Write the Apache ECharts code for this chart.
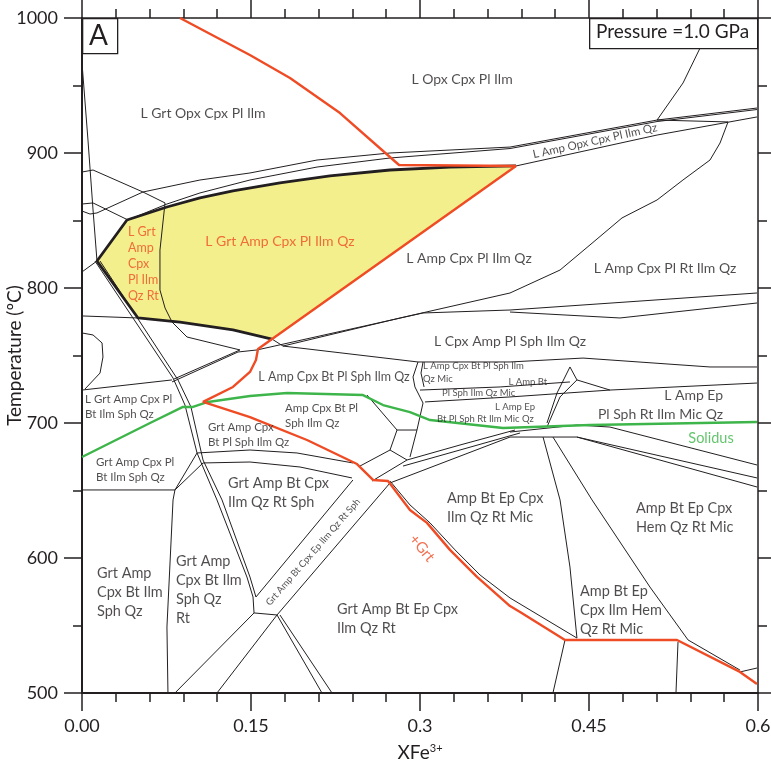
<!DOCTYPE html>
<html><head><meta charset="utf-8">
<script src="https://cdn.jsdelivr.net/npm/echarts@6/dist/echarts.min.js"></script>
<style>html,body{margin:0;padding:0;background:#fff}#chart{width:771px;height:771px}</style>
</head><body><div id="chart"></div>
<script>
// Axis ticks
const xTickLabels = ['0.00', '0.15', '0.3', '0.45', '0.6'];
const yTickLabels = ['500', '600', '700', '800', '900', '1000'];

// Melt-bearing garnet field (L Grt Amp Cpx ...), [XFe3+, T]
const meltField = [
  [0.0133, 820], [0.0399, 850.4], [0.0754, 860], [0.1047, 866.7], [0.134, 871.9],
  [0.1757, 877.8], [0.2201, 883], [0.2734, 887.4], [0.3266, 889.6], [0.3852, 890.4],
  [0.1686, 762.2], [0.134, 768.9], [0.087, 774.8], [0.0497, 777.8]
];
const meltFieldEdge = [
  [0.1686, 762.2], [0.134, 768.9], [0.087, 774.8], [0.0497, 777.8], [0.0133, 820],
  [0.0399, 850.4], [0.0754, 860], [0.1047, 866.7], [0.134, 871.9], [0.1757, 877.8],
  [0.2201, 883], [0.2734, 887.4], [0.3266, 889.6], [0.3852, 890.4]
];

// Garnet-in boundary
const garnetIn = [
  [0.087, 1000], [0.149, 972.6], [0.1846, 955.6], [0.229, 929.6], [0.2814, 891.1],
  [0.3852, 890.4], [0.1562, 754.8], [0.1544, 746.7], [0.1491, 737.8], [0.134, 726.7],
  [0.1074, 715.6], [0.1491, 704.4], [0.1997, 687.4], [0.2441, 669.6], [0.2583, 657.8],
  [0.2716, 657], [0.2911, 635.6], [0.3062, 626], [0.3266, 606], [0.3506, 586],
  [0.3799, 564.4], [0.3888, 560], [0.4287, 539.3], [0.5281, 539.3], [0.584, 515.6],
  [0.5991, 506.7]
];

// Solidus
const solidus = [
  [0, 674.8], [0.0604, 700], [0.0896, 711.9], [0.0985, 711.9], [0.1118, 715.6],
  [0.1491, 720], [0.182, 722.2], [0.2494, 720.7], [0.2672, 713.3], [0.2911, 708.1],
  [0.3089, 702.2], [0.3737, 696.3], [0.4509, 698.5], [0.5991, 700.7]
];

// Other field boundaries
const phaseBoundaries = [
  [[0, 966.7], [0.0053, 909.6], [0.0098, 857.8], [0.0133, 820]],
  [[0, 885.9], [0.0098, 887.4], [0.0541, 871.1], [0.0737, 863]],
  [[0, 862.2], [0.0098, 863], [0.0408, 850.4]],
  [[0, 857], [0.0071, 854.8], [0.0133, 855.6]],
  [[0.0133, 855.6], [0.0541, 871.1], [0.1047, 880], [0.1491, 885.2], [0.2086, 894.8], [0.2734, 900], [0.3799, 904.4], [0.5104, 924.4], [0.5991, 933.3]],
  [[0.0408, 850.4], [0.0754, 862.2], [0.1047, 870.4], [0.1491, 880], [0.2086, 889.6], [0.2734, 896.3], [0.3799, 903.3], [0.5104, 923.3], [0.5991, 932.2]],
  [[0.3852, 890.4], [0.5104, 913.3], [0.5991, 926.7]],
  [[0.5486, 977.8], [0.5335, 951.9], [0.5104, 924.4]],
  [[0.5104, 924.4], [0.5734, 923]],
  [[0.5734, 923], [0.5663, 907.4], [0.5574, 894.8], [0.5334, 880], [0.5104, 865.2], [0.4793, 851.9], [0.4509, 831.9], [0.4243, 813.3], [0.3799, 796.3], [0.2823, 777.8], [0.1784, 757]],
  [[0.0737, 863], [0.0692, 828.1], [0.0692, 798.5], [0.0737, 785.2], [0.0799, 774.8], [0.0932, 763.7], [0.1402, 754.1]],
  [[0, 811.9], [0.0133, 820]],
  [[0, 779.3], [0.0497, 777.8]],
  [[0, 766.7], [0.0098, 765.2], [0.0178, 759.3], [0.0186, 748.9], [0.016, 737], [0.0027, 725.2]],
  [[0, 724.4], [0.0799, 731.9]],
  [[0.0799, 730.4], [0.1385, 752.6]],
  [[0.0817, 732.6], [0.1402, 754.1]],
  [[0.1385, 752.6], [0.1553, 754.1], [0.3027, 781.5], [0.3799, 783.7], [0.5991, 796.3]],
  [[0.3799, 782.2], [0.4775, 777.8], [0.5991, 788.9]],
  [[0.1686, 762.2], [0.1784, 757], [0.2982, 745.2]],
  [[0.2982, 745.2], [0.3799, 745.2], [0.4447, 748.1], [0.5574, 741.5], [0.5991, 741.5]],
  [[0.0115, 820], [0.0808, 733.3], [0.0914, 713.3], [0.1021, 677.8], [0.1198, 643], [0.1464, 585.9], [0.1518, 571.1]],
  [[0.016, 820], [0.0852, 731.9], [0.0967, 711.9], [0.1074, 672.6], [0.1243, 643], [0.1491, 585.9], [0.1544, 571.1]],
  [[0, 650.4], [0.0825, 650.4]],
  [[0.0763, 500], [0.0754, 548.9], [0.0808, 643], [0.0825, 650.4]],
  [[0.0825, 650.4], [0.1021, 677.8]],
  [[0.0825, 650.4], [0.1074, 670.4]],
  [[0.1021, 677.8], [0.1491, 680], [0.1908, 677.8], [0.2405, 670.4]],
  [[0.1074, 670.4], [0.1491, 671.1], [0.1935, 667.4], [0.2396, 659.3]],
  [[0.0825, 500], [0.1527, 559.3]],
  [[0.1198, 500], [0.1731, 557.8]],
  [[0.1544, 571.1], [0.2405, 657.8]],
  [[0.1731, 557.8], [0.2734, 655.6]],
  [[0.1731, 557.8], [0.213, 500]],
  [[0.1757, 557.8], [0.2219, 500]],
  [[0.1518, 571.1], [0.1527, 559.3], [0.1731, 557.8]],
  [[0.4092, 689.6], [0.4243, 643], [0.4331, 593.3], [0.4393, 540.7]],
  [[0.418, 689.6], [0.4527, 643], [0.5041, 578.5], [0.5379, 539.3]],
  [[0.4287, 539.3], [0.418, 500]],
  [[0.529, 537.8], [0.5272, 500]],
  [[0.584, 515.6], [0.5991, 518.5]],
  [[0.2734, 657], [0.2911, 639.3], [0.3089, 626], [0.3311, 606], [0.3533, 587.4], [0.3799, 570.4], [0.4393, 540.7]],
  [[0.5379, 539.3], [0.584, 517]],
  [[0.3799, 693.3], [0.4393, 698.5], [0.4686, 697], [0.5991, 668.9]],
  [[0.3799, 689.6], [0.4393, 689.6], [0.5991, 659.3]],
  [[0.4393, 689.6], [0.5991, 652.6]],
  [[0.3044, 715.6], [0.3799, 719.3], [0.4686, 724.4], [0.5991, 729.6]],
  [[0.3, 724.4], [0.3711, 726.7], [0.4331, 730.4]],
  [[0.4331, 741.5], [0.4393, 731.9], [0.4686, 724.4]],
  [[0.4331, 741.5], [0.4216, 722.2], [0.4127, 700]],
  [[0.4393, 731.9], [0.4243, 719.3], [0.4127, 697]],
  [[0.2982, 745.2], [0.2938, 734.1], [0.2955, 726.7], [0.3027, 714.8], [0.2973, 694.8], [0.2911, 674.8]],
  [[0.3027, 745.2], [0.3009, 737], [0.3036, 726.7]],
  [[0.2734, 655.6], [0.3799, 689.6]],
  [[0.253, 720.7], [0.2796, 694.8]],
  [[0.2796, 694.8], [0.2734, 680], [0.2467, 668.1]],
  [[0.2796, 694.8], [0.2973, 694.8]],
  [[0.2734, 680], [0.2885, 672.6]],
  [[0.2885, 672.6], [0.2574, 657]],
  [[0.2885, 672.6], [0.3355, 683.7], [0.3843, 694.8]],
  [[0.2849, 668.1], [0.3355, 680], [0.3888, 692.6]]
];

// Field names: [XFe3+, T, name]
const centredLabels = [
  [0.1074, 929.6, 'L Grt Opx Cpx Pl Ilm'],
  [0.3373, 954.8, 'L Opx Cpx Pl Ilm'],
  [0.3435, 822.2, 'L Amp Cpx Pl Ilm Qz'],
  [0.5175, 814.8, 'L Amp Cpx Pl Rt Ilm Qz'],
  [0.3799, 760.7, 'L Cpx Amp Pl Sph Ilm Qz']
];
const leftLabels = [
  [0.1296, 648.5, 'Grt Amp Bt Cpx\nIlm Qz Rt Sph'],
  [0.324, 637, 'Amp Bt Ep Cpx\nIlm Qz Rt Mic'],
  [0.4917, 629.6, 'Amp Bt Ep Cpx\nHem Qz Rt Mic'],
  [0.442, 561.5, 'Amp Bt Ep\nCpx Ilm Hem\nQz Rt Mic'],
  [0.2263, 555.2, 'Grt Amp Bt Ep Cpx\nIlm Qz Rt'],
  [0.0834, 576.7, 'Grt Amp\nCpx Bt Ilm\nSph Qz\nRt'],
  [0.0133, 574.8, 'Grt Amp\nCpx Bt Ilm\nSph Qz']
];
const mediumLabels = [
  [0.0124, 665.6, 'Grt Amp Cpx Pl\nBt Ilm Sph Qz'],
  [0.0027, 712.2, 'L Grt Amp Cpx Pl\nBt Ilm Sph Qz'],
  [0.1118, 691.1, 'Grt Amp Cpx\nBt Pl Sph Ilm Qz'],
  [0.1802, 705.6, 'Amp Cpx Bt Pl\nSph Ilm Qz']
];
const smallLabels = [
  [0.3027, 737.4, 'L Amp Cpx Bt Pl Sph Ilm\nQz Mic'],
  [0.3785, 730.4, 'L Amp Bt'],
  [0.3196, 722.2, 'Pl Sph Ilm Qz Mic'],
  [0.3666, 711.9, 'L Amp Ep'],
  [0.3151, 703, 'Bt Pl Sph Rt Ilm Mic Qz']
];
const rightLabels = [[0.569, 713.0, 'L Amp Ep\nPl Sph Rt Ilm Mic Qz']];
const midLabels = [[0.2237, 734.1, 'L Amp Cpx Bt Pl Sph Ilm Qz']];
const meltLabels = [[0.1757, 834.8, 'L Grt Amp Cpx Pl Ilm Qz']];
const meltLabelsStacked = [[0.0408, 817.8, 'L Grt\nAmp\nCpx\nPl Ilm\nQz Rt']];
const solidusLabel = [[0.5583, 688.9, 'Solidus']];
const garnetInLabel = [[0.3018, 607.4, '+Grt']];
const bandLabels = [
  [0.4553, 908.9, 'L Amp Opx Cpx Pl Ilm Qz', 12.5, 11.5],
  [0.205, 604.4, 'Grt Amp Bt Cpx Ep Ilm Qz Rt Sph', 49, 9.5]
];

const INK = '#231f20';
const RED = '#ef4b24';
const GREEN = '#3db54a';
const YELLOW = '#f3ef8c';
const FONT = 'Lato';

const chart = echarts.init(document.getElementById('chart'), null, { renderer: 'canvas' });

function textSeries(rows, label, z) {
  return {
    type: 'scatter', symbolSize: 0, silent: true, z: z || 6,
    data: rows.map(r => ({ value: [r[0], r[1]], name: r[2] })),
    label: Object.assign({ show: true, formatter: p => p.name, fontFamily: FONT, color: INK }, label)
  };
}

function axisCommon(extra) {
  return Object.assign({
    type: 'value',
    axisLine: { show: true, onZero: false, lineStyle: { color: INK, width: 1.5 } },
    axisTick: { show: true, inside: false, length: 18, lineStyle: { color: INK, width: 1.5 } },
    minorTick: { show: true, length: 9, lineStyle: { color: INK, width: 1.5 } },
    splitLine: { show: false },
    minorSplitLine: { show: false }
  }, extra);
}

const option = {
  animation: false,
  backgroundColor: '#fff',
  grid: { left: 82, right: 13, top: 18, bottom: 78, containLabel: false, outerBoundsMode: 'none' },
  xAxis: [
    axisCommon({
      min: 0, max: 0.6, interval: 0.15, position: 'bottom',
      axisLine: { show: true, onZero: false, lineStyle: { color: INK, width: 2 } },
      minorTick: { show: true, splitNumber: 5, length: 9, lineStyle: { color: INK, width: 1.5 } },
      axisLabel: { fontFamily: FONT, fontSize: 18, color: INK, margin: 24,
        formatter: v => xTickLabels[Math.round(v / 0.15)] },
      name: '{a|XFe}{b|3+}', nameLocation: 'middle', nameGap: 50, nameMoveOverlap: false,
      nameTextStyle: { fontFamily: FONT, color: INK,
        rich: { a: { fontSize: 19, fontFamily: FONT, color: INK }, b: { fontSize: 11, fontFamily: FONT, color: INK, verticalAlign: 'top', padding: [0, 0, 6, 0] } } }
    }),
    axisCommon({
      min: 0, max: 0.6, interval: 0.15, position: 'top',
      minorTick: { show: true, splitNumber: 5, length: 9, lineStyle: { color: INK, width: 1.5 } },
      axisLabel: { show: false }
    })
  ],
  yAxis: [
    axisCommon({
      min: 500, max: 1000, interval: 100, position: 'left',
      axisLine: { show: true, onZero: false, lineStyle: { color: INK, width: 2 } },
      minorTick: { show: true, splitNumber: 2, length: 9, lineStyle: { color: INK, width: 1.5 } },
      axisLabel: { fontFamily: FONT, fontSize: 18, color: INK, margin: 24,
        formatter: v => yTickLabels[Math.round((v - 500) / 100)] },
      name: 'Temperature (ºC)', nameLocation: 'middle', nameGap: 58, nameMoveOverlap: false,
      nameTextStyle: { fontFamily: FONT, fontSize: 19, color: INK }
    }),
    axisCommon({
      min: 500, max: 1000, interval: 100, position: 'right',
      minorTick: { show: true, splitNumber: 2, length: 9, lineStyle: { color: INK, width: 1.5 } },
      axisLabel: { show: false }
    })
  ],
  series: [
    {
      type: 'custom', silent: true, z: 1,
      data: meltField,
      renderItem: (params, api) => {
        if (params.dataIndex !== 0) return null;
        return { type: 'polygon', shape: { points: meltField.map(p => api.coord(p)) },
          style: { fill: YELLOW, stroke: null } };
      }
    },
    {
      type: 'lines', coordinateSystem: 'cartesian2d', polyline: true, silent: true, z: 3,
      data: phaseBoundaries.map(c => ({ coords: c })),
      lineStyle: { color: INK, width: 1, opacity: 1 }
    },
    { type: 'line', data: meltFieldEdge, showSymbol: false, silent: true, z: 4,
      lineStyle: { color: INK, width: 2.8 } },
    { type: 'line', data: solidus, showSymbol: false, silent: true, z: 5,
      lineStyle: { color: GREEN, width: 2.4 } },
    { type: 'line', data: garnetIn, showSymbol: false, silent: true, z: 5,
      lineStyle: { color: RED, width: 2.4 } },
    textSeries(centredLabels, { position: 'inside', fontSize: 14 }),
    textSeries(leftLabels, { position: 'right', distance: 0, fontSize: 14.5, lineHeight: 19, align: 'left' }),
    textSeries(mediumLabels, { position: 'right', distance: 0, fontSize: 11.5, lineHeight: 15, align: 'left' }),
    textSeries(smallLabels, { position: 'right', distance: 0, fontSize: 9.5, lineHeight: 13, align: 'left' }),
    textSeries(rightLabels, { position: 'left', distance: 0, fontSize: 14, lineHeight: 19, align: 'right' }),
    textSeries(midLabels, { position: 'inside', fontSize: 12.5 }),
    textSeries(meltLabels, { position: 'inside', fontSize: 14, color: RED }),
    textSeries(meltLabelsStacked, { position: 'right', distance: 0, fontSize: 12.5, lineHeight: 16, align: 'left', color: RED }),
    textSeries(solidusLabel, { position: 'inside', fontSize: 14.5, color: GREEN }),
    textSeries(garnetInLabel, { position: 'inside', fontSize: 15, color: RED, rotate: -50 }),
    ...bandLabels.map(b => textSeries([b], { position: 'inside', fontSize: b[4], rotate: b[3] }))
  ],
  graphic: [
    { type: 'rect', left: 82, top: 18, shape: { width: 35, height: 35 },
      style: { fill: '#fff', stroke: INK, lineWidth: 1.3 }, z: 10 },
    { type: 'text', left: 89, top: 22, style: { text: 'A', font: '28px ' + FONT, fill: INK }, z: 11 },
    { type: 'rect', left: 589, top: 18, shape: { width: 168, height: 30 },
      style: { fill: '#fff', stroke: INK, lineWidth: 1.3 }, z: 10 },
    { type: 'text', left: 596, top: 22, style: { text: 'Pressure =1.0 GPa', font: '19px ' + FONT, fill: INK }, z: 11 }
  ]
};
chart.setOption(option);
</script>
</body></html>
